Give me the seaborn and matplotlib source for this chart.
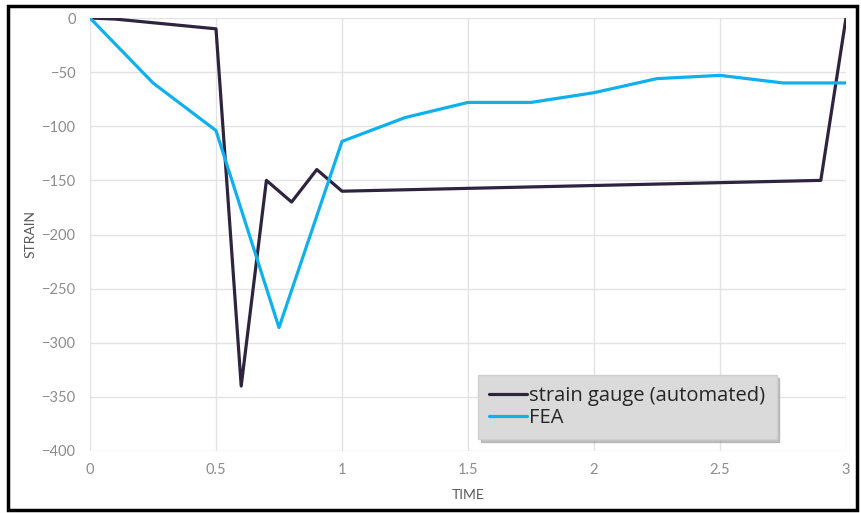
import matplotlib
matplotlib.use("Agg")
import matplotlib.pyplot as plt
import seaborn as sns
import pandas as pd
from matplotlib.patches import Rectangle

gauge_time = [0, 0.1, 0.5, 0.6, 0.7, 0.8, 0.9, 1.0, 2.9, 3.0]
gauge_strain = [0, -1, -10, -340, -150, -170, -140, -160, -150, 0]

fea_time = [0, 0.25, 0.5, 0.75, 1.0, 1.25, 1.5, 1.75, 2.0, 2.25, 2.5, 2.75, 3.0]
fea_strain = [0, -60, -104, -286, -114, -92, -78, -78, -69, -56, -53, -60, -60]

x_ticks = [0, 0.5, 1, 1.5, 2, 2.5, 3]
x_tick_labels = ["0", "0.5", "1", "1.5", "2", "2.5", "3"]
y_ticks = [0, -50, -100, -150, -200, -250, -300, -350, -400]

sns.set_theme(style="white")
plt.rcParams['font.family'] = ['Lato', 'DejaVu Sans']

fig = plt.figure(figsize=(8.61, 5.13), dpi=100)
ax = fig.add_axes([90/861, 1-451/513, (846-90)/861, (451-18)/513])

gdf = pd.DataFrame({"TIME": gauge_time, "STRAIN": gauge_strain})
fdf = pd.DataFrame({"TIME": fea_time, "STRAIN": fea_strain})
sns.lineplot(data=gdf, x="TIME", y="STRAIN", ax=ax, color="#2e2440", lw=2.3,
             label="strain gauge (automated)", sort=False, zorder=3)
sns.lineplot(data=fdf, x="TIME", y="STRAIN", ax=ax, color="#0fb0ec", lw=2.3,
             label="FEA", sort=False, zorder=3)

ax.set_xlim(0, 3)
ax.set_ylim(-400, 0)
ax.set_xticks(x_ticks)
ax.set_xticklabels(x_tick_labels)
ax.set_yticks(y_ticks)
ax.tick_params(axis="both", length=0, labelsize=10.5, colors="#8c8c8c")
ax.tick_params(axis="x", pad=9)
ax.tick_params(axis="y", pad=10)
ax.grid(True, color="#e3e3e3", lw=1.0)
for s in ax.spines.values():
    s.set_visible(False)
ax.set_xlabel("TIME", fontsize=10, color="#595959", labelpad=8)
ax.set_ylabel("STRAIN", fontsize=10, color="#595959", labelpad=4)

leg = ax.legend(loc="upper left", bbox_to_anchor=((478-90)/756, (451-375)/433),
                frameon=True, prop={"family": "Open Sans", "size": 14.5},
                handlelength=1.9, handletextpad=0.1,
                borderpad=0.55, labelspacing=0.1, borderaxespad=0,
                shadow={"color": "#9a9a9a", "alpha": 0.6}, fancybox=False)
leg.get_frame().set_facecolor("#dadada")
leg.get_frame().set_edgecolor("#d0d0d0")
for t in leg.get_texts():
    t.set_color("#262626")

fig.patches.append(Rectangle((8/861, 3/513), (857-8)/861, (507-3)/513,
                             transform=fig.transFigure, fill=False,
                             edgecolor="black", lw=2.5, zorder=10))

fig.savefig("out.png", dpi=100)
